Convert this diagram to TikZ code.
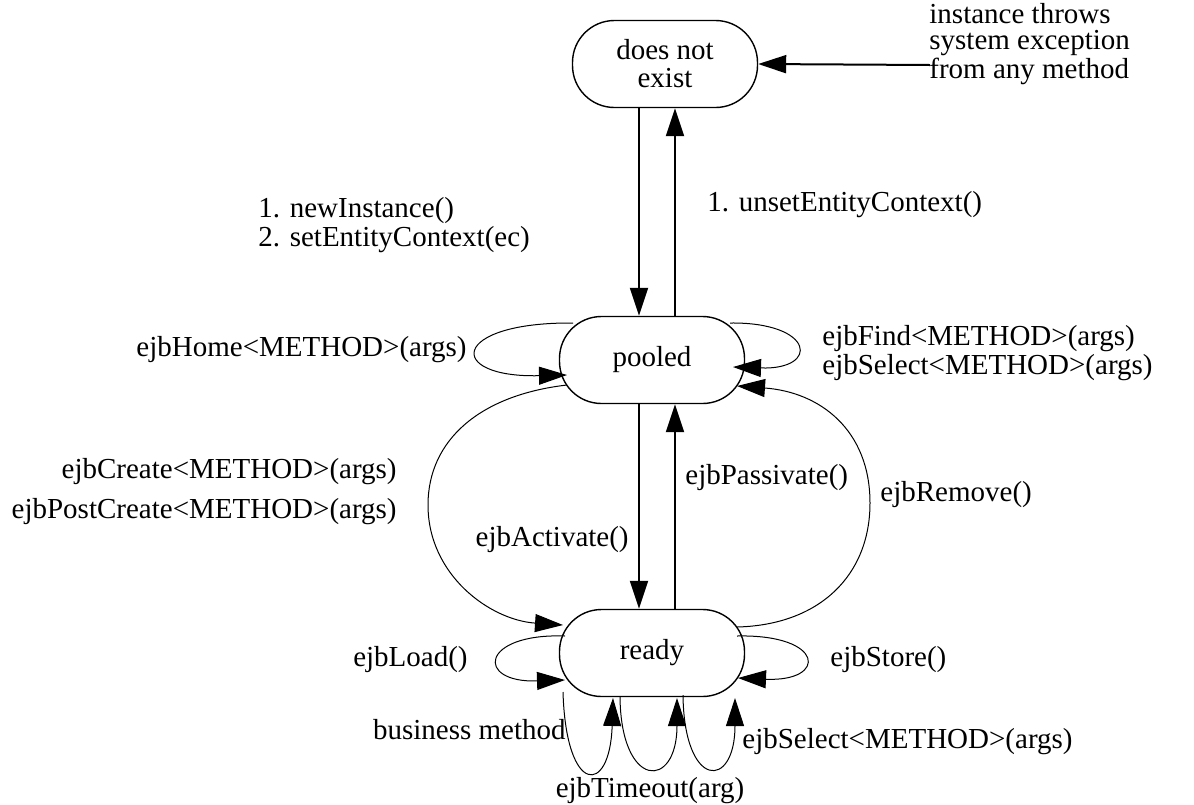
\documentclass[tikz,border=0pt]{standalone}
\usepackage{fontspec}
\setmainfont{Liberation Serif}
\usetikzlibrary{arrows.meta}
\begin{document}
\begin{tikzpicture}[x=0.5pt,y=-0.5pt,
  font=\fontsize{14.5}{12.5}\selectfont,
  stbox/.style={draw,line width=0.7pt,rounded corners=21pt,minimum width=92.5pt,minimum height=43.5pt,inner sep=0pt,align=center},
  lbl/.style={inner sep=0pt},
  arr/.style={-{Triangle[length=14pt,width=9pt]}},
  thickarr/.style={arr,line width=1pt},
  thinarr/.style={arr,line width=0.5pt}]
\useasboundingbox (0,0) rectangle (1194,804);

% states
\node[stbox,font=\fontsize{14.5}{14}\selectfont] (dne) at (665,64) {does not\\exist};
\node[stbox] (pooled) at (652,360) {pooled};
\node[stbox] (ready) at (652,653) {ready};

% helper coordinates
\coordinate (c1) at (639,0);
\coordinate (c2) at (675,0);
\coordinate (exc) at (930,65);
\coordinate (lm) at (428,505);
\coordinate (rm) at (870,503);

% straight arrows
\draw[thickarr] (exc) -- (dne.east);
\draw[thickarr] (dne.south -| c1) -- (pooled.north -| c1);
\draw[thickarr] (pooled.north -| c2) -- (dne.south -| c2);
\draw[thickarr] (pooled.south -| c1) -- (ready.north -| c1);
\draw[thickarr] (ready.north -| c2) -- (pooled.south -| c2);

% pooled self loops
\draw[thinarr] ([shift={(-79,-37)}]pooled.center) .. controls (450,322) and (445,378) .. ([shift={(-85,15)}]pooled.center);
\draw[thinarr] ([shift={(78,-37)}]pooled.center) .. controls (815,322) and (820,370) .. ([shift={(81,7)}]pooled.center);

% big arcs
\draw[thinarr] ([shift={(-85,25)}]pooled.center) .. controls (480,395) and (428,440) .. (lm) .. controls (428,575) and (490,620) .. ([shift={(-89,-28)}]ready.center);
\draw[thinarr] ([shift={(85,-26)}]ready.center) .. controls (820,625) and (870,575) .. (rm) .. controls (870,430) and (820,392) .. ([shift={(85,26)}]pooled.center);

% ready self loops
\draw[thinarr] ([shift={(-87,-17)}]ready.center) .. controls (480,633) and (475,683) .. ([shift={(-87,27)}]ready.center);
\draw[thinarr] ([shift={(85,-17)}]ready.center) .. controls (825,634) and (828,682) .. ([shift={(86,25)}]ready.center);
\draw[thinarr] ([shift={(-89,39)}]ready.center) .. controls (566,796) and (610,796) .. ([shift={(-39,45)}]ready.center);
\draw[thinarr] ([shift={(-32,44)}]ready.center) .. controls (621,790) and (677,790) .. ([shift={(25,45)}]ready.center);
\draw[thinarr] ([shift={(31,42)}]ready.center) .. controls (684,790) and (735,790) .. ([shift={(83,45)}]ready.center);

% labels
\node[lbl,anchor=west,align=left,font=\fontsize{14.5}{13.2}\selectfont] (lexc) at (929,44) {instance throws\\system exception\\from any method};
\node[lbl,anchor=west,align=left] (lnew) at (258,225) {1. newInstance()\\2. setEntityContext(ec)};
\node[lbl,anchor=west] (lunset) at (707,205) {1. unsetEntityContext()};
\node[lbl,anchor=east] (lhome) at (467,350) {ejbHome<METHOD>(args)};
\node[lbl,anchor=west,align=left] (lfind) at (822,353) {ejbFind<METHOD>(args)\\ejbSelect<METHOD>(args)};
\node[lbl,anchor=east] (lcreate) at (397,472) {ejbCreate<METHOD>(args)};
\node[lbl,anchor=east] (lpost) at (397,512) {ejbPostCreate<METHOD>(args)};
\node[lbl,anchor=east] (lact) at (629,540) {ejbActivate()};
\node[lbl,anchor=west] (lpas) at (685,478) {ejbPassivate()};
\node[lbl,anchor=west] (lrem) at (880,495) {ejbRemove()};
\node[lbl,anchor=east] (lload) at (468,660) {ejbLoad()};
\node[lbl,anchor=west] (lstore) at (830,660) {ejbStore()};
\node[lbl,anchor=east] (lbus) at (566,730) {business method};
\node[lbl] (ltime) at (650,791) {ejbTimeout(arg)};
\node[lbl,anchor=west] (lsel) at (742,742) {ejbSelect<METHOD>(args)};
\end{tikzpicture}
\end{document}
